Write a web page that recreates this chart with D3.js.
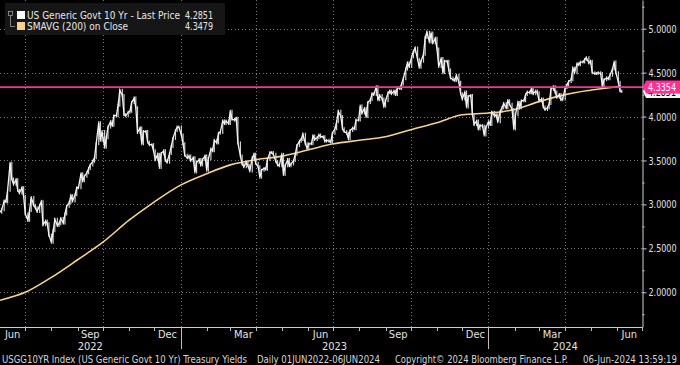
<!DOCTYPE html>
<html><head><meta charset="utf-8">
<script src="https://cdn.jsdelivr.net/npm/d3@7"></script>
<style>html,body{margin:0;padding:0;background:#000;overflow:hidden}svg{display:block}</style>
</head><body><svg id="c" width="680" height="365"></svg>
<script>
// ---------- DATA ----------
const weekStart = "2022-05-30";            // Monday of first week
const dayOffsets = [0, 2, 4];               // Mon, Wed, Fri
const yieldWeeks = [
 [null,2.91,2.94],[3.04,3.03,3.16],[3.47,3.29,3.23],[3.28,3.16,3.13],[3.19,3.09,2.89],
 [2.82,2.93,3.08],[2.99,2.96,2.92],[2.99,3.03,2.77],[2.81,2.78,2.65],[2.57,2.70,2.83],
 [2.76,2.78,2.84],[2.79,2.89,2.98],[3.02,3.10,3.04],[3.11,3.19,3.19],[3.35,3.27,3.32],
 [3.36,3.41,3.45],[3.49,3.53,3.69],[3.93,3.73,3.83],[3.65,3.76,3.88],[3.94,3.90,4.01],
 [4.01,4.13,4.30],[4.24,4.02,4.01],[4.05,4.06,4.16],[4.21,4.10,3.82],[3.87,3.69,3.83],
 [3.83,3.71,3.68],[3.68,3.61,3.51],[3.57,3.42,3.58],[3.61,3.50,3.48],[3.58,3.66,3.75],
 [3.84,3.88,3.88],[3.79,3.69,3.56],[3.53,3.55,3.50],[3.53,3.37,3.48],[3.51,3.45,3.51],
 [3.55,3.39,3.52],[3.63,3.61,3.73],[3.70,3.81,3.82],[3.95,3.92,3.95],[3.92,4.06,3.97],
 [3.96,3.98,3.70],[3.55,3.46,3.43],[3.48,3.44,3.38],[3.53,3.57,3.47],[3.43,3.31,3.39],
 [3.41,3.40,3.51],[3.59,3.59,3.57],[3.49,3.45,3.44],[3.57,3.34,3.44],[3.51,3.44,3.46],
 [3.50,3.57,3.67],[3.72,3.74,3.80],[3.69,3.64,3.69],[3.69,3.78,3.74],[3.76,3.79,3.77],
 [3.77,3.72,3.73],[3.72,3.71,3.81],[3.86,3.94,4.06],[4.00,3.86,3.83],[3.81,3.75,3.84],
 [3.87,3.86,3.96],[3.96,4.12,4.04],[4.09,4.00,4.16],[4.19,4.26,4.25],[4.34,4.19,4.24],
 [4.20,4.12,4.18],[4.27,4.29,4.26],[4.29,4.25,4.33],[4.32,4.37,4.43],[4.54,4.61,4.57],
 [4.68,4.74,4.78],[4.65,4.56,4.63],[4.71,4.90,4.96],[4.85,4.95,4.84],[4.89,4.77,4.57],
 [4.66,4.50,4.63],[4.63,4.53,4.44],[4.42,4.41,4.47],[4.39,4.26,4.20],[4.28,4.11,4.23],
 [4.24,4.02,3.91],[3.95,3.86,3.90],[3.89,3.79,3.88],[3.94,3.91,4.05],[4.01,4.02,3.94],
 [4.06,4.10,4.15],[4.10,4.18,4.14],[4.08,3.86,4.02],[4.16,4.10,4.18],[4.18,4.25,4.28],
 [4.27,4.32,4.26],[4.29,4.27,4.18],[4.20,4.11,4.08],[4.10,4.15,4.31],[4.34,4.28,4.22],
 [4.25,4.19,4.20],[4.33,4.36,4.40],[4.42,4.55,4.50],[4.60,4.59,4.62],[4.62,4.65,4.67],
 [4.61,4.63,4.50],[4.49,4.49,4.50],[4.49,4.34,4.42],[4.44,4.43,4.47],[4.54,4.62,4.50],
 [4.39,4.29,4.2851]
];
const smaDates = ["2022-06-01","2022-07-01","2022-08-01","2022-09-01","2022-10-01","2022-11-01",
 "2022-12-01","2023-01-01","2023-02-01","2023-03-01","2023-04-01","2023-05-01","2023-06-01",
 "2023-07-01","2023-08-01","2023-09-01","2023-10-01","2023-11-01","2023-12-01","2024-01-01",
 "2024-02-01","2024-03-01","2024-04-01","2024-05-01","2024-06-01","2024-06-06"];
const smaValues = [1.91,2.00,2.17,2.37,2.57,2.82,3.03,3.22,3.35,3.45,3.51,3.55,3.62,3.69,
 3.73,3.77,3.85,3.93,4.02,4.04,4.08,4.17,4.25,4.30,4.34,4.3479];
const yTicks = [2.0,2.5,3.0,3.5,4.0,4.5,5.0];
const yMinorTicks = [1.75,2.25,2.75,3.25,3.75,4.25,4.75,5.25];
const monthNames = ["Jan","Feb","Mar","Apr","May","Jun","Jul","Aug","Sep","Oct","Nov","Dec"];
const labelMonths = [2,5,8,11];
const years = [2022,2023,2024];
const refLevel = 4.3354;
const lastPrice = 4.2851, lastSma = 4.3479;
const legendLabels = ["US Generic Govt 10 Yr - Last Price","SMAVG (200)  on Close"];
const footer = [
 ["USGG10YR Index (US Generic Govt 10 Yr) Treasury Yields",2,245],
 ["Daily 01JUN2022-06JUN2024",257,123],
 ["Copyright\u00A9 2024 Bloomberg Finance L.P.",395,173],
 ["06-Jun-2024 13:59:19",583,94]
];

// ---------- SCALES ----------
const parse = d3.timeParse("%Y-%m-%d");
const PR = 642, PB = 327;
const x = d3.scaleTime().domain([new Date(2022,5,1), new Date(2024,6,1)]).range([0,PR]);
const y = d3.scaleLinear().domain([1.605,5.3266]).range([PB,0]);
const FONT = "'Liberation Sans Narrow','DejaVu Sans Condensed','Arial Narrow',sans-serif";

const svg = d3.select("#c");
svg.append("rect").attr("width",680).attr("height",365).attr("fill","#000");

// series points
const start = parse(weekStart);
const pts = [];
yieldWeeks.forEach((row,r)=>row.forEach((v,k)=>{
  if(v==null) return;
  pts.push({d:d3.timeDay.offset(start, r*7+dayOffsets[k]), v});
}));
const sma = smaDates.map((d,i)=>({d:parse(d), v:smaValues[i]}));

// ---------- GRID ----------
const grid = svg.append("g").attr("stroke","#777").attr("stroke-width",1)
  .attr("stroke-dasharray","1,2.5").attr("shape-rendering","crispEdges");
yTicks.forEach(t=>grid.append("line").attr("x1",0).attr("x2",PR)
  .attr("y1",Math.round(y(t))+0.5).attr("y2",Math.round(y(t))+0.5));
const quarterStarts = d3.timeMonth.range(x.domain()[0], x.domain()[1])
  .filter(d=>d.getMonth()%3===0);
quarterStarts.forEach(d=>grid.append("line").attr("y1",0).attr("y2",PB)
  .attr("x1",Math.round(x(d))+0.5).attr("x2",Math.round(x(d))+0.5));

// ---------- SERIES ----------
svg.append("path").datum(sma)
  .attr("d", d3.line().x(d=>x(d.d)).y(d=>y(d.v)).curve(d3.curveMonotoneX))
  .attr("fill","none").attr("stroke","#f6d38a").attr("stroke-width",1.6);

const bars = svg.append("g").attr("stroke","#cfcfcf").attr("stroke-width",1.2);
pts.forEach((p,i)=>{
  if(i===0) return;
  const a = y(pts[i-1].v), b = y(p.v);
  bars.append("line").attr("x1",x(p.d)).attr("x2",x(p.d))
    .attr("y1",Math.min(a,b)-1.5).attr("y2",Math.max(a,b)+1.5);
});
svg.append("path").datum(pts)
  .attr("d", d3.line().x(d=>x(d.d)).y(d=>y(d.v)))
  .attr("fill","none").attr("stroke","#f4f4f4").attr("stroke-width",1.3);

// reference line
svg.append("line").attr("x1",0).attr("x2",PR+1)
  .attr("y1",y(refLevel)).attr("y2",y(refLevel))
  .attr("stroke","#ff2f96").attr("stroke-width",1.6);

// ---------- AXES ----------
const ax = svg.append("g").attr("transform",`translate(${PR+0.5},0)`)
  .call(d3.axisRight(y).tickValues(yTicks).tickFormat(d3.format(".4f")).tickSize(4).tickSizeOuter(0).tickPadding(2));
ax.select(".domain").attr("stroke","#cfcfcf");
ax.selectAll(".tick line").attr("stroke","#cfcfcf");
ax.selectAll(".tick text").attr("fill","#e2e2e2").attr("font-family",FONT).attr("font-size",11)
  .attr("textLength",28).attr("lengthAdjust","spacingAndGlyphs");
const axm = svg.append("g").attr("transform",`translate(${PR+0.5},0)`)
  .call(d3.axisRight(y).tickValues(yMinorTicks).tickFormat("").tickSize(2).tickSizeOuter(0));
axm.select(".domain").remove();
axm.selectAll(".tick line").attr("stroke","#cfcfcf");

// bottom axis
svg.append("line").attr("x1",0).attr("x2",PR+1).attr("y1",PB+0.5).attr("y2",PB+0.5)
  .attr("stroke","#cfcfcf");
const months = d3.timeMonth.range(x.domain()[0], d3.timeDay.offset(x.domain()[1],1));
const bx = svg.append("g");
months.forEach(m=>{
  if(+m===+x.domain()[0]) return;
  const xx = Math.round(x(m))+0.5;
  const isJan = m.getMonth()===0;
  bx.append("line").attr("x1",xx).attr("x2",xx).attr("y1",PB).attr("y2",isJan?349:331)
    .attr("stroke","#bdbdbd");
});
months.forEach(m=>{
  if(!labelMonths.includes(m.getMonth())) return;
  const mid = (x(m)+Math.min(x(d3.timeMonth.offset(m,1)),PR))/2;
  bx.append("text").attr("x",mid).attr("y",338).attr("text-anchor","middle")
    .attr("fill","#e2e2e2").attr("font-family",FONT).attr("font-size",11).text(monthNames[m.getMonth()]);
});
years.forEach(yr=>{
  const a = Math.max(x(new Date(yr,0,1)),0), b = Math.min(x(new Date(yr+1,0,1)),PR);
  bx.append("text").attr("x",(a+b)/2).attr("y",350).attr("text-anchor","middle")
    .attr("fill","#e2e2e2").attr("font-family",FONT).attr("font-size",11).text(yr);
});

// ---------- PRICE TAGS ----------
const tagH = 13;
const tag = (v, fill, col, txt)=>{
  const yy = y(v);
  svg.append("path").attr("d",`M${PR+1},${yy} L${PR+4},${yy-tagH/2} L680,${yy-tagH/2} L680,${yy+tagH/2} L${PR+4},${yy+tagH/2} Z`)
    .attr("fill",fill);
  svg.append("text").attr("x",PR+6).attr("y",yy+4).attr("fill",col).attr("font-family",FONT)
    .attr("font-size",11).attr("textLength",28).attr("lengthAdjust","spacingAndGlyphs").text(txt);
};
tag(lastPrice, "#f2f2f2", "#000", d3.format(".4f")(lastPrice));
tag(refLevel, "#ff2f96", "#fff", d3.format(".4f")(refLevel));

// ---------- LEGEND ----------
const lg = svg.append("g");
lg.append("rect").attr("x",5).attr("y",3).attr("width",220).attr("height",32)
  .attr("fill","#161616");
lg.append("rect").attr("x",8.5).attr("y",11.5).attr("width",4).attr("height",4)
  .attr("fill","none").attr("stroke","#9a9a9a").attr("stroke-width",0.8);
lg.append("path").attr("d","M10.5,15.5 V26.5 H15").attr("fill","none").attr("stroke","#9a9a9a").attr("stroke-width",0.8);
const swatch = ["#ffffff","#f6d38a"];
const vals = [lastPrice, lastSma];
legendLabels.forEach((l,i)=>{
  const yy = 11 + i*11;
  lg.append("rect").attr("x",17).attr("y",yy).attr("width",8).attr("height",8).attr("fill",swatch[i]);
  lg.append("text").attr("x",27).attr("y",yy+8).attr("fill","#e6e6e6").attr("font-family",FONT)
    .attr("font-size",11).attr("textLength",i===0?153:101).attr("lengthAdjust","spacingAndGlyphs").text(l);
  lg.append("text").attr("x",185).attr("y",yy+8).attr("fill","#e6e6e6").attr("font-family",FONT)
    .attr("font-size",11).attr("textLength",28).attr("lengthAdjust","spacingAndGlyphs").text(d3.format(".4f")(vals[i]));
});

// ---------- FOOTER ----------
footer.forEach(([t,xx,w])=>{
  svg.append("text").attr("x",xx).attr("y",363).attr("fill","#d6d6d6").attr("font-family",FONT)
    .attr("font-size",10.5).attr("textLength",w).attr("lengthAdjust","spacingAndGlyphs").text(t);
});
</script>
</body></html>
